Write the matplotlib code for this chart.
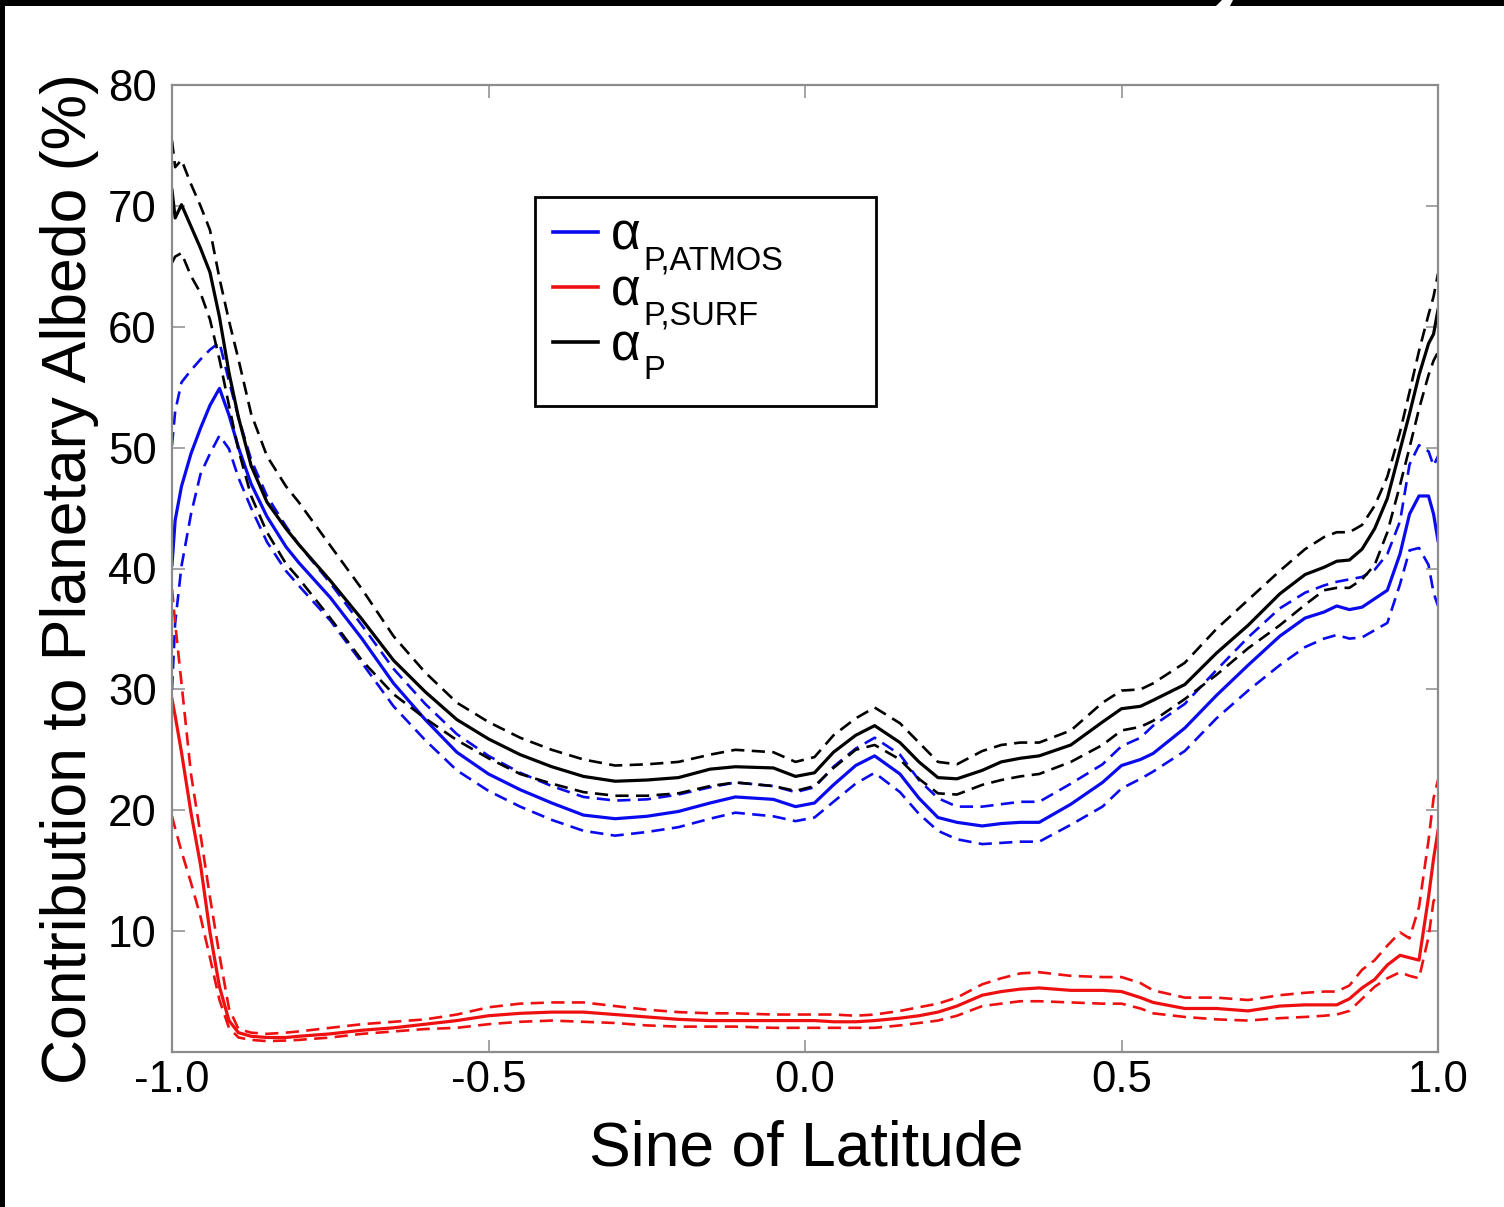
import matplotlib
matplotlib.use("Agg")
import matplotlib.pyplot as plt
from matplotlib.patches import Rectangle, Polygon
from matplotlib.lines import Line2D

plt.rcParams['font.family'] = ['Liberation Sans', 'DejaVu Sans']
plt.rcParams['axes.unicode_minus'] = False

# ---- data: zonal-mean contributions to planetary albedo (%) ----
sin_lat = [-1.0, -0.995, -0.985, -0.97, -0.955, -0.94, -0.925, -0.91, -0.895, -0.875,
           -0.85, -0.82, -0.8, -0.75, -0.7, -0.65, -0.6, -0.55, -0.5, -0.45,
           -0.4, -0.35, -0.3, -0.25, -0.2, -0.15, -0.11, -0.05, -0.015, 0.015,
           0.045, 0.08, 0.11, 0.15, 0.18, 0.21, 0.24, 0.28, 0.31, 0.34,
           0.37, 0.42, 0.47, 0.5, 0.53, 0.55, 0.6, 0.65, 0.7, 0.75,
           0.79, 0.82, 0.84, 0.86, 0.88, 0.9, 0.92, 0.94, 0.955, 0.97,
           0.985, 0.993, 1.0]

# total planetary albedo, mean and +/- spread
alpha_p = [71.3, 69.0, 70.1, 68.3, 66.5, 64.5, 60.8, 56.2, 52.5, 48.5,
           45.5, 43.3, 42.0, 39.0, 35.8, 32.4, 29.8, 27.5, 25.9, 24.6,
           23.6, 22.8, 22.4, 22.5, 22.7, 23.4, 23.6, 23.5, 22.8, 23.1,
           24.8, 26.2, 27.0, 25.6, 24.0, 22.7, 22.6, 23.3, 24.0, 24.3,
           24.5, 25.4, 27.3, 28.4, 28.6, 29.1, 30.4, 33.0, 35.3, 37.9,
           39.5, 40.1, 40.6, 40.7, 41.6, 43.3, 45.8, 49.8, 52.8, 56.0,
           58.6, 59.4, 61.4]
alpha_p_hi = [75.4, 73.2, 73.8, 71.8, 70.0, 68.0, 64.0, 60.5, 57.3, 52.8,
              49.3, 46.8, 45.5, 41.9, 38.3, 34.4, 31.4, 28.9, 27.3, 26.0,
              25.0, 24.2, 23.7, 23.8, 24.0, 24.6, 25.0, 24.8, 24.0, 24.4,
              26.2, 27.6, 28.5, 27.2, 25.6, 24.0, 23.8, 24.9, 25.4, 25.6,
              25.6, 26.6, 28.9, 29.9, 30.0, 30.5, 32.2, 35.0, 37.4, 39.8,
              41.6, 42.6, 43.0, 43.0, 43.6, 45.2, 47.6, 51.3, 54.6, 58.0,
              61.0, 62.5, 64.4]
alpha_p_lo = [65.3, 65.8, 66.1, 64.2, 62.8, 60.6, 57.3, 53.5, 49.8, 46.0,
              43.0, 40.4, 39.2, 35.9, 32.4, 29.6, 27.6, 25.8, 24.3, 23.0,
              22.2, 21.5, 21.2, 21.2, 21.4, 22.0, 22.3, 22.0, 21.6, 22.0,
              23.5, 25.0, 25.4, 24.2, 22.6, 21.4, 21.3, 22.1, 22.5, 22.8,
              23.0, 24.0, 25.4, 26.6, 26.9, 27.4, 29.2, 31.2, 33.4, 35.3,
              37.0, 38.2, 38.4, 38.4, 39.1, 40.3, 43.0, 46.9, 50.0, 53.2,
              56.0, 57.2, 57.9]

# atmospheric contribution
alpha_atm = [40.3, 44.0, 46.8, 49.5, 51.6, 53.5, 54.9, 52.7, 50.0, 47.0,
             44.3, 41.8, 40.5, 37.6, 34.2, 30.5, 27.5, 24.8, 23.0, 21.7,
             20.6, 19.6, 19.3, 19.5, 19.9, 20.6, 21.1, 20.9, 20.3, 20.6,
             22.1, 23.7, 24.5, 23.0, 21.0, 19.4, 19.0, 18.7, 18.9, 19.0,
             19.0, 20.5, 22.3, 23.7, 24.2, 24.7, 26.8, 29.5, 32.0, 34.4,
             35.9, 36.4, 36.9, 36.6, 36.8, 37.5, 38.2, 41.2, 44.5, 46.0,
             46.0, 44.5, 42.3]
alpha_atm_hi = [50.2, 53.0, 55.4, 56.4, 57.3, 58.1, 58.7, 55.5, 52.5, 49.0,
                46.0, 43.5, 42.0, 38.8, 35.3, 31.7, 28.8, 26.3, 24.5, 23.1,
                22.0, 21.1, 20.8, 20.9, 21.3, 21.9, 22.3, 22.0, 21.5, 21.9,
                23.6, 25.1, 26.0, 24.6, 22.5, 21.0, 20.3, 20.3, 20.5, 20.7,
                20.7, 22.2, 23.8, 25.3, 26.0, 27.0, 28.8, 31.6, 34.3, 36.7,
                38.0, 38.6, 38.9, 39.1, 39.3, 39.9, 41.2, 43.9, 48.6, 50.2,
                49.7, 48.5, 49.3]
alpha_atm_lo = [30.0, 35.5, 40.2, 44.5, 47.8, 49.5, 51.0, 49.9, 47.5, 45.0,
                42.2, 39.8, 38.6, 35.7, 32.2, 28.6, 25.8, 23.3, 21.6, 20.3,
                19.2, 18.3, 17.9, 18.2, 18.6, 19.3, 19.8, 19.5, 19.1, 19.4,
                20.7, 22.2, 23.1, 21.5, 19.7, 18.3, 17.6, 17.2, 17.3, 17.4,
                17.4, 18.8, 20.3, 21.8, 22.6, 23.2, 24.9, 27.6, 29.9, 32.0,
                33.5, 34.2, 34.5, 34.2, 34.3, 34.9, 35.5, 38.7, 41.5, 41.7,
                40.3, 38.0, 36.9]

# surface contribution
alpha_surf = [29.2, 27.8, 24.8, 19.8, 15.5, 9.9, 5.4, 2.6, 1.6, 1.3,
              1.2, 1.2, 1.3, 1.5, 1.8, 2.0, 2.3, 2.6, 3.0, 3.2,
              3.3, 3.3, 3.1, 2.9, 2.7, 2.6, 2.6, 2.6, 2.6, 2.6,
              2.5, 2.5, 2.6, 2.8, 3.0, 3.3, 3.8, 4.7, 5.0, 5.2,
              5.3, 5.1, 5.1, 5.0, 4.5, 4.1, 3.6, 3.6, 3.4, 3.8,
              3.9, 3.9, 3.9, 4.4, 5.3, 6.0, 7.2, 8.0, 7.8, 7.6,
              12.8, 16.0, 18.3]
alpha_surf_hi = [38.3, 35.5, 30.5, 23.0, 18.0, 12.8, 8.0, 3.6, 1.9, 1.6,
                 1.5, 1.6, 1.7, 2.0, 2.3, 2.5, 2.7, 3.1, 3.7, 4.0,
                 4.1, 4.1, 3.8, 3.5, 3.3, 3.2, 3.2, 3.1, 3.1, 3.1,
                 3.1, 3.0, 3.1, 3.4, 3.7, 4.0, 4.5, 5.6, 6.1, 6.5,
                 6.6, 6.3, 6.2, 6.2, 5.7, 5.1, 4.5, 4.5, 4.3, 4.7,
                 4.9, 5.0, 5.0, 5.5, 6.8, 7.6, 8.8, 9.9, 9.4, 12.0,
                 17.5, 21.0, 22.5]
alpha_surf_lo = [19.5, 18.5, 16.6, 14.0, 11.2, 7.8, 4.3, 2.0, 1.2, 1.0,
                 0.9, 0.95, 1.0, 1.2, 1.5, 1.7, 1.9, 2.0, 2.3, 2.5,
                 2.6, 2.5, 2.4, 2.2, 2.1, 2.1, 2.1, 2.0, 2.0, 2.0,
                 2.0, 2.0, 2.0, 2.2, 2.4, 2.6, 3.0, 3.8, 4.0, 4.2,
                 4.2, 4.1, 4.0, 4.0, 3.6, 3.2, 2.9, 2.7, 2.6, 2.8,
                 2.9, 3.0, 3.1, 3.4, 4.4, 5.4, 6.1, 6.6, 6.3, 6.1,
                 9.5, 12.5, 13.0]

x_ticks = [-1.0, -0.5, 0.0, 0.5, 1.0]
x_ticklabels = ['-1.0', '-0.5', '0.0', '0.5', '1.0']
y_ticks = [10, 20, 30, 40, 50, 60, 70, 80]
legend_subscripts = ['P,ATMOS', 'P,SURF', 'P']

BLUE = '#0a0aee'
RED = '#ee1010'
BLACK = '#000000'
GRAY = '#8c8c8c'

W, H = 1504, 1207
fig = plt.figure(figsize=(W / 100, H / 100), dpi=100)
ax = fig.add_axes([172 / W, 1 - 1052 / H, (1438 - 172) / W, (1052 - 85) / H])

solid_lw = 2.3
dash_lw = 1.9
dash = (0, (5.0, 2.8))

series = [
    (alpha_atm, alpha_atm_hi, alpha_atm_lo, BLUE),
    (alpha_surf, alpha_surf_hi, alpha_surf_lo, RED),
    (alpha_p, alpha_p_hi, alpha_p_lo, BLACK),
]
for mean, hi, lo, col in series:
    ax.plot(sin_lat, hi, color=col, lw=dash_lw, ls=dash)
    ax.plot(sin_lat, lo, color=col, lw=dash_lw, ls=dash)
    ax.plot(sin_lat, mean, color=col, lw=solid_lw, solid_joinstyle='round')

ax.set_xlim(-1.0, 1.0)
ax.set_ylim(0, 80)
ax.set_xticks(x_ticks)
ax.set_xticklabels(x_ticklabels)
ax.set_yticks(y_ticks)

for sp in ax.spines.values():
    sp.set_color(GRAY)
    sp.set_linewidth(1.6)
ax.tick_params(which='both', direction='in', length=9, width=1.1, color=GRAY,
               top=True, right=True, labelsize=31.5, labelcolor='black')
ax.tick_params(axis='x', pad=6)
ax.tick_params(axis='y', pad=11)

fig.text(806 / W, 1 - 1165 / H, 'Sine of Latitude', fontsize=45,
         ha='center', va='baseline')
fig.text(86 / W, 1 - 579 / H, 'Contribution to Planetary Albedo (%)',
         fontsize=45, rotation=90, rotation_mode='anchor',
         ha='center', va='baseline')

# legend: frame, line handles, alpha symbols with subscripts
ax.add_patch(Rectangle(((535 - 172) / 1266, (1052 - 406) / 967),
                       (876 - 535) / 1266, (406 - 197) / 967,
                       transform=ax.transAxes, facecolor='white',
                       edgecolor='black', lw=2.0, zorder=4))
handles = [Line2D([], [], color=c, lw=2.6) for c in (BLUE, RED, BLACK)]
leg = ax.legend(handles, ['\u03b1', '\u03b1', '\u03b1'], loc='upper left',
                bbox_to_anchor=((553 - 172) / 1266, (1052 - 212) / 967),
                frameon=False, fontsize=37, handlelength=0.88,
                handletextpad=0.25, labelspacing=0.12, borderpad=0,
                borderaxespad=0)
leg.set_zorder(5)
for txt, sub in zip(leg.get_texts(), legend_subscripts):
    ax.annotate(sub, xy=(1, 0), xycoords=txt, xytext=(3, -8),
                textcoords='offset pixels', fontsize=23.5,
                ha='left', va='baseline', zorder=6)

# black margins of the page
fig.add_artist(Rectangle((0, 1 - 6 / H), 1, 6 / H, transform=fig.transFigure,
                         facecolor='black', edgecolor='none'))
fig.add_artist(Rectangle((0, 0), 4.5 / W, 1, transform=fig.transFigure,
                         facecolor='black', edgecolor='none'))
fig.add_artist(Polygon([(1216 / W, 1 - 6 / H), (1230 / W, 1 - 6 / H),
                        (1233 / W, 1.0), (1222 / W, 1.0)],
                       closed=True, transform=fig.transFigure,
                       facecolor='white', edgecolor='none'))

fig.savefig('out.png', dpi=100)
